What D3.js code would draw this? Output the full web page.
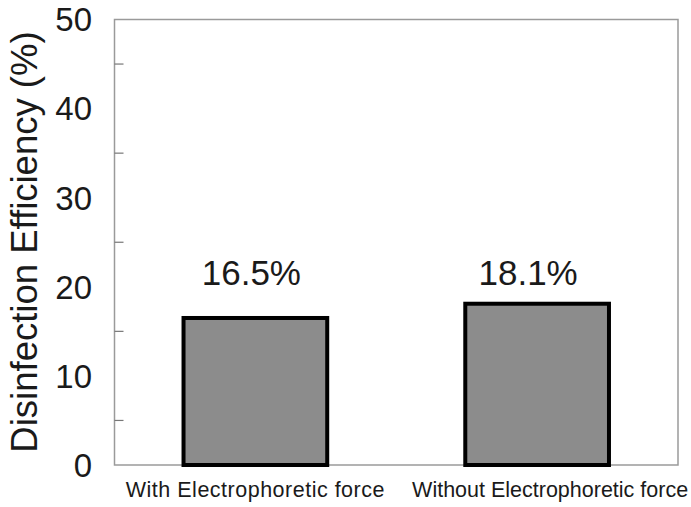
<!DOCTYPE html>
<html><head><meta charset="utf-8">
<script src="https://cdn.jsdelivr.net/npm/d3@7"></script>
<style>body{margin:0;background:#fff;} text{font-family:"Liberation Sans",Arial,sans-serif;fill:#1a1a1a;}</style>
</head><body>
<svg id="c" width="691" height="507"></svg>
<script>
const categories = ["With Electrophoretic force", "Without Electrophoretic force"];
const values = [16.5, 18.1];
const valueLabels = ["16.5%", "18.1%"];
const yTickLabels = [0, 10, 20, 30, 40, 50];
const yMinorTicks = [5, 15, 25, 35, 45];

const svg = d3.select("#c");
const L = 114.5, R = 678, T = 19.5, B = 465;
const y = d3.scaleLinear().domain([0, 50]).range([B, T]);
const x = d3.scalePoint().domain(categories).range([L, R]).padding(0.5);
const barW = x.step() * 0.51;

// frame
svg.append("rect").attr("x", L).attr("y", T).attr("width", R - L).attr("height", B - T)
  .attr("fill", "none").attr("stroke", "#9a9a9a").attr("stroke-width", 1.5);

// minor ticks (inward)
svg.selectAll(".mt").data(yMinorTicks).join("line")
  .attr("x1", L).attr("x2", L + 9).attr("y1", d => y(d)).attr("y2", d => y(d))
  .attr("stroke", "#777").attr("stroke-width", 1.2);

// tick labels
svg.selectAll(".yl").data(yTickLabels).join("text")
  .attr("x", 92).attr("y", d => y(d)).attr("dy", "0.36em")
  .attr("text-anchor", "end").attr("font-size", 33).text(d => d);

// axis title
svg.append("text").attr("transform", `translate(37,242) rotate(-90)`)
  .attr("text-anchor", "middle").attr("font-size", 36.5).text("Disinfection Efficiency (%)");

// bars
svg.selectAll(".bar").data(values).join("rect")
  .attr("x", (d, i) => x(categories[i]) - barW / 2).attr("width", barW)
  .attr("y", d => y(d)).attr("height", d => B - y(d))
  .attr("fill", "#8c8c8c").attr("stroke", "#000").attr("stroke-width", 4);

// value labels
const vOff = [-4, -9];
svg.selectAll(".vl").data(valueLabels).join("text")
  .attr("x", (d, i) => x(categories[i]) + vOff[i]).attr("y", 285)
  .attr("text-anchor", "middle").attr("font-size", 35).text(d => d);

// category labels
svg.selectAll(".cl").data(categories).join("text")
  .attr("x", (d, i) => x(d) + (i === 1 ? 13 : 0)).attr("y", 497)
  .attr("text-anchor", "middle").attr("font-size", 21.5)
  .attr("letter-spacing", (d, i) => i === 0 ? "0.5px" : "0px").text(d => d);
</script>
</body></html>
